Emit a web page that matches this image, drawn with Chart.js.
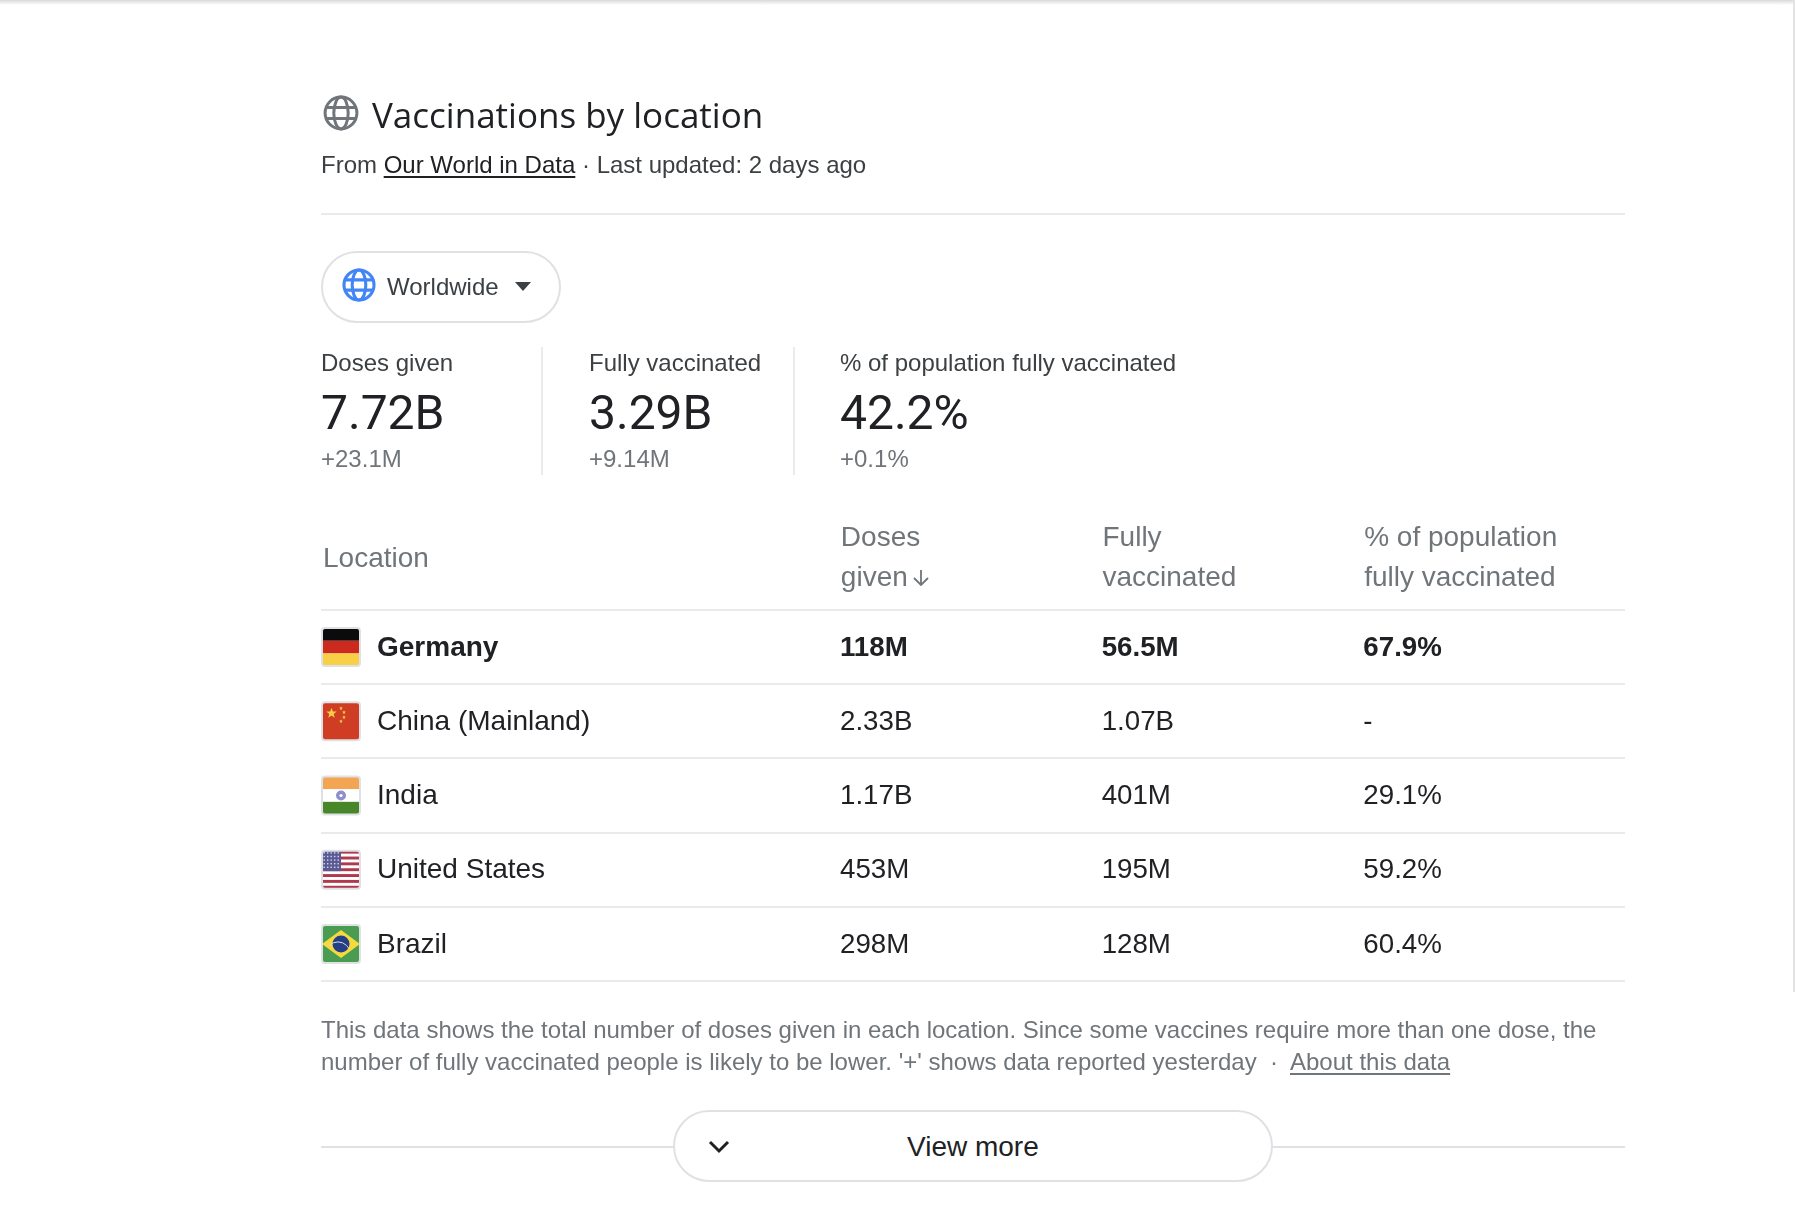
<!DOCTYPE html>
<html>
<head>
<meta charset="utf-8">
<title>Vaccinations by location</title>
<script src="https://cdn.jsdelivr.net/npm/chart.js@4/dist/chart.umd.min.js"></script>
<style>
  html, body { margin: 0; background: #fff; overflow: hidden; }
  #page { position: relative; width: 1795px; height: 1217px; overflow: hidden; }
  #chart { position: absolute; left: 0; top: 0; }
  .t { position: absolute; white-space: nowrap; line-height: 1; transform: translateY(-50%); color: #202124; font-family: "Liberation Sans", Arial, sans-serif; }
  .rb { font-family: Roboto, sans-serif; }
  .muted { color: #70757a; }
  .line { position: absolute; background: #e8eaed; }
  a { color: inherit; text-decoration: underline; text-underline-offset: 3px; }
  svg { position: absolute; }
  #topShade { position: absolute; left: 0; top: 0; width: 100%; height: 5px; background: linear-gradient(#d9d9d9, #fff); }
  #pill { position: absolute; left: 321px; top: 251px; width: 236px; height: 68px; border: 2px solid #dfe1e5; border-radius: 36px; }
  #more { position: absolute; left: 673px; top: 1110px; width: 596px; height: 68px; border: 2px solid #dfe1e5; border-radius: 36px; background: #fff; }
</style>
</head>
<body>
<div id="page">
  <div id="topShade"></div>
  <div class="line" style="left:1793px;top:0;width:2px;height:992px;background:#e3e3e3"></div>
  <canvas id="chart" width="1795" height="1217"></canvas>

  <svg style="left:323px;top:95px" width="36" height="36" viewBox="0 0 24 24" fill="none" stroke="#70757a" stroke-width="2">
    <circle cx="12" cy="12" r="10.6"/><ellipse cx="12" cy="12" rx="4.8" ry="10.6"/><path d="M2 8.4h20M2 15.6h20"/>
  </svg>
  <div class="t" style="left:372px;top:114px;font-family:'Open Sans',sans-serif;font-size:35px" id="title"></div>
  <div class="t" style="left:321px;top:165px;font-size:24px;color:#3c4043" id="source"></div>
  <div class="line" style="left:321px;top:213px;width:1304px;height:2px"></div>

  <div id="pill"></div>
  <svg style="left:342px;top:268px" width="34" height="34" viewBox="0 0 24 24" fill="none" stroke="#4285f4" stroke-width="2.2">
    <circle cx="12" cy="12" r="10.6"/><ellipse cx="12" cy="12" rx="4.8" ry="10.6"/><path d="M2 8.4h20M2 15.6h20"/>
  </svg>
  <div class="t" style="left:387px;top:287px;font-size:24px;color:#3c4043" id="region"></div>
  <svg style="left:515px;top:282px" width="16" height="9"><path d="M0 0H16L8 9Z" fill="#3c4043"/></svg>

  <div class="line" style="left:541px;top:347px;width:2px;height:128px"></div>
  <div class="line" style="left:793px;top:347px;width:2px;height:128px"></div>
  <div id="kpis"></div>

  <div class="t muted" style="left:321px;top:1030px;font-size:24px" id="note1"></div>
  <div class="t muted" style="left:321px;top:1062px;font-size:24px" id="note2"></div>

  <div class="line" style="left:321px;top:1146px;width:1304px;height:2px;background:#dfe1e5"></div>
  <div id="more"></div>
  <svg style="left:708px;top:1140px" width="22" height="14" fill="none" stroke="#202124" stroke-width="3"><path d="M2 2L11 11L20 2"/></svg>
  <div class="t" style="left:907px;top:1147px;font-size:28px" id="moreLabel"></div>
</div>

<script>
const titleText = 'Vaccinations by location';
const regionName = 'Worldwide';
const moreText = 'View more';

const kpiLabels = ['Doses given', 'Fully vaccinated', '% of population fully vaccinated'];
const kpiValues = ['7.72B', '3.29B', '42.2%'];
const kpiDeltas = ['+23.1M', '+9.14M', '+0.1%'];
const kpiLefts = [321, 589, 840];

const locationHeader = 'Location';
const highlightRow = 'Germany';
const locations = ['Germany', 'China (Mainland)', 'India', 'United States', 'Brazil'];
const columns = ['Doses given', 'Fully vaccinated', '% of population fully vaccinated'];
const columnHeaders = [['Doses', 'given'], ['Fully', 'vaccinated'], ['% of population', 'fully vaccinated']];

// in millions, null = no data
const dosesGiven = [118, 2330, 1170, 453, 298];
const fullyVaccinated = [56.5, 1070, 401, 195, 128];
// percent
const percentVaccinated = [67.9, null, 29.1, 59.2, 60.4];

document.getElementById('title').textContent = titleText;
document.getElementById('region').textContent = regionName;
document.getElementById('moreLabel').textContent = moreText;
document.getElementById('source').innerHTML = 'From <a style="color:#202124">Our World in Data</a> · Last updated: 2 days ago';
document.getElementById('note1').textContent = 'This data shows the total number of doses given in each location. Since some vaccines require more than one dose, the';
document.getElementById('note2').innerHTML = "number of fully vaccinated people is likely to be lower. '+' shows data reported yesterday &nbsp;·&nbsp; <a>About this data</a>";

const kpis = document.getElementById('kpis');
kpiLabels.forEach((label, i) => {
  kpis.insertAdjacentHTML('beforeend',
    `<div class="t" style="left:${kpiLefts[i]}px;top:363px;font-size:24px;color:#3c4043">${label}</div>` +
    `<div class="t rb" style="left:${kpiLefts[i]}px;top:413px;font-size:48px">${kpiValues[i]}</div>` +
    `<div class="t muted" style="left:${kpiLefts[i]}px;top:459px;font-size:24px">${kpiDeltas[i]}</div>`);
});

function formatCount(value) {
  return value >= 1000 ? `${value / 1000}B` : `${value}M`;
}

function formatPercent(value) {
  return value === null ? '-' : `${value.toFixed(1)}%`;
}

function columnDataset(columnName, values, format) {
  return {
    label: columnName,
    data: locations.map((loc, i) => ({ x: columnName, y: loc, value: values[i] })),
    format: format,
    showLine: false,
    pointRadius: 0,
  };
}

function star(ctx, cx, cy, r, color) {
  ctx.fillStyle = color;
  ctx.beginPath();
  for (let i = 0; i < 10; i++) {
    const a = -Math.PI / 2 + i * Math.PI / 5;
    const d = i % 2 ? r * 0.42 : r;
    ctx.lineTo(cx + d * Math.cos(a), cy + d * Math.sin(a));
  }
  ctx.closePath();
  ctx.fill();
}

const flagPainters = {
  'Germany': (ctx, x, y, s) => {
    ctx.fillStyle = '#0b0b0b'; ctx.fillRect(x, y, s, s / 3);
    ctx.fillStyle = '#cc2a1e'; ctx.fillRect(x, y + s / 3, s, s / 3);
    ctx.fillStyle = '#f8d046'; ctx.fillRect(x, y + 2 * s / 3, s, s / 3);
  },
  'China (Mainland)': (ctx, x, y, s) => {
    ctx.fillStyle = '#cf3d25'; ctx.fillRect(x, y, s, s);
    star(ctx, x + 9.5, y + 11, 5.5, '#f6cf47');
    star(ctx, x + 19, y + 6, 2, '#f6cf47');
    star(ctx, x + 22, y + 10, 2, '#f6cf47');
    star(ctx, x + 22, y + 15, 2, '#f6cf47');
    star(ctx, x + 19, y + 19, 2, '#f6cf47');
  },
  'India': (ctx, x, y, s) => {
    ctx.fillStyle = '#f4a553'; ctx.fillRect(x, y, s, s / 3);
    ctx.fillStyle = '#ffffff'; ctx.fillRect(x, y + s / 3, s, s / 3);
    ctx.fillStyle = '#47872a'; ctx.fillRect(x, y + 2 * s / 3, s, s / 3);
    ctx.fillStyle = '#8f8fd0';
    ctx.beginPath(); ctx.arc(x + s / 2, y + s / 2, 5, 0, Math.PI * 2); ctx.fill();
    ctx.fillStyle = '#ffffff';
    ctx.beginPath(); ctx.arc(x + s / 2, y + s / 2, 1.6, 0, Math.PI * 2); ctx.fill();
  },
  'United States': (ctx, x, y, s) => {
    ctx.fillStyle = '#ffffff'; ctx.fillRect(x, y, s, s);
    ctx.fillStyle = '#b0394e';
    for (let i = 0; i < 7; i++) ctx.fillRect(x, y + i * 2 * s / 13, s, s / 13);
    ctx.fillStyle = '#5a5a94'; ctx.fillRect(x, y, s * 0.5, s * 7 / 13);
    ctx.fillStyle = '#d9d9ec';
    for (let r = 0; r < 5; r++) {
      for (let c = 0; c < 5; c++) ctx.fillRect(x + 1.5 + c * 3.5, y + 1.5 + r * 3.6, 1.4, 1.4);
    }
  },
  'Brazil': (ctx, x, y, s) => {
    ctx.fillStyle = '#4a9d50'; ctx.fillRect(x, y, s, s);
    ctx.fillStyle = '#f6d93f';
    ctx.beginPath();
    ctx.moveTo(x, y + s / 2); ctx.lineTo(x + s / 2, y + 5); ctx.lineTo(x + s, y + s / 2); ctx.lineTo(x + s / 2, y + s - 5);
    ctx.closePath(); ctx.fill();
    ctx.fillStyle = '#243f86';
    ctx.beginPath(); ctx.arc(x + s / 2, y + s / 2, 8.5, 0, Math.PI * 2); ctx.fill();
    ctx.strokeStyle = '#d8dfea'; ctx.lineWidth = 1;
    ctx.beginPath(); ctx.arc(x + s / 2 - 3, y + s / 2 + 10, 12, -Math.PI * 0.75, -Math.PI * 0.15); ctx.stroke();
  },
};

const cellLabels = {
  id: 'cellLabels',
  afterDatasetsDraw(chart) {
    const { ctx } = chart;
    const band = chart.scales.x.width / columns.length;
    ctx.save();
    ctx.textBaseline = 'middle';
    ctx.textAlign = 'left';
    chart.data.datasets.forEach((dataset, d) => {
      chart.getDatasetMeta(d).data.forEach((point, i) => {
        const row = dataset.data[i];
        ctx.font = `${row.y === highlightRow ? '700 ' : ''}27.7px "Liberation Sans", Arial, sans-serif`;
        ctx.fillStyle = '#202124';
        ctx.fillText(dataset.format(row.value), point.x - band / 2, point.y + 1);
      });
    });
    ctx.restore();
  },
};

const locationColumn = {
  id: 'locationColumn',
  afterDraw(chart) {
    const { ctx } = chart;
    const yScale = chart.scales.y;
    const xScale = chart.scales.x;
    ctx.save();
    ctx.font = '28px "Liberation Sans", Arial, sans-serif';
    ctx.fillStyle = '#70757a';
    ctx.textBaseline = 'middle';
    ctx.fillText(locationHeader, yScale.left - 54, 559);

    // sort arrow next to the first column header
    const ax = xScale.left + 81;
    ctx.strokeStyle = '#70757a';
    ctx.lineWidth = 1.8;
    ctx.beginPath();
    ctx.moveTo(ax, 570); ctx.lineTo(ax, 585);
    ctx.moveTo(ax - 7, 578); ctx.lineTo(ax, 585); ctx.lineTo(ax + 7, 578);
    ctx.stroke();

    locations.forEach((loc, i) => {
      const x = 322, s = 38, y = yScale.getPixelForTick(i) - s / 2;
      ctx.save();
      ctx.beginPath();
      ctx.roundRect(x, y, s, s, 3);
      ctx.clip();
      flagPainters[loc](ctx, x, y, s);
      ctx.restore();
      ctx.beginPath();
      ctx.roundRect(x, y, s, s, 3);
      ctx.strokeStyle = '#dfe1e5';
      ctx.lineWidth = 2;
      ctx.stroke();
    });
    ctx.restore();
  },
};

new Chart(document.getElementById('chart').getContext('2d'), {
  type: 'line',
  data: {
    datasets: [
      columnDataset(columns[0], dosesGiven, formatCount),
      columnDataset(columns[1], fullyVaccinated, formatCount),
      columnDataset(columns[2], percentVaccinated, formatPercent),
    ],
  },
  plugins: [cellLabels, locationColumn],
  options: {
    responsive: false,
    animation: false,
    events: [],
    layout: { padding: { left: 377, right: 170, top: 500, bottom: 236 } },
    plugins: { legend: { display: false }, tooltip: { enabled: false } },
    scales: {
      x: {
        type: 'category',
        position: 'top',
        labels: columns,
        offset: true,
        border: { display: false },
        grid: { display: false },
        afterFit: (scale) => { scale.height = 110; },
        ticks: {
          align: 'start',
          autoSkip: false,
          maxRotation: 0,
          padding: 4,
          labelOffset: -130,
          color: '#70757a',
          font: { family: '"Liberation Sans", Arial, sans-serif', size: 28, lineHeight: 1.43 },
          callback: (value, i) => columnHeaders[i],
        },
      },
      y: {
        type: 'category',
        labels: locations,
        offset: true,
        border: { display: false },
        afterFit: (scale) => { scale.width = 463; },
        grid: { offset: true, color: '#e8eaed', tickColor: '#e8eaed', lineWidth: 2, tickLength: 519 },
        ticks: {
          crossAlign: 'far',
          autoSkip: false,
          labelOffset: 1,
          color: '#202124',
          font: (ctx) => ({
            family: '"Liberation Sans", Arial, sans-serif',
            size: 28,
            weight: ctx.index === locations.indexOf(highlightRow) ? '700' : '400',
          }),
        },
      },
    },
  },
});
</script>
</body>
</html>
